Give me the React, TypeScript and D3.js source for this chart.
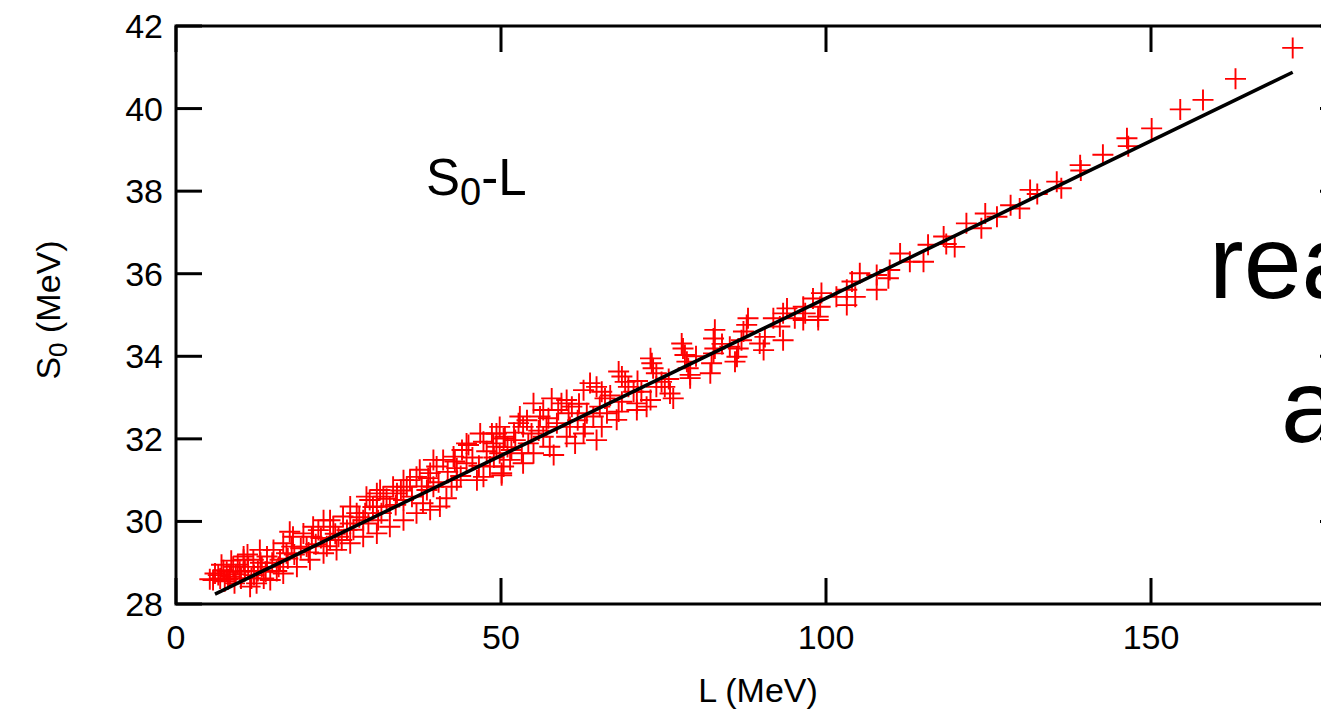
import React from "react";
import * as d3 from "d3";

// ---- data ----
const Lvals: number[] = [
  171.8, 163.0, 158.0, 154.5, 150.1, 146.3, 146.5, 142.6, 139.1, 139.2, 135.5, 136.2, 131.4, 132.5, 128.4, 129.8,
  124.5, 126.3, 123.9, 121.6, 118.1, 119.8, 118.5, 115.7, 115.0, 112.9, 111.4, 109.8, 109.6, 105.2, 107.8, 107.8,
  104.0, 103.2, 104.5, 103.2, 101.6, 99.3, 99.1, 98.0, 96.8, 98.8, 96.5,
  98.8, 96.5, 95.2, 94.0, 93.4, 92.9, 93.4, 91.9, 90.6, 89.8, 90.4, 88.0, 87.8, 87.3, 87.0, 86.5, 86.3, 86.0, 85.2,
  82.9, 82.7, 82.9, 82.7, 82.4, 82.2,
  78.0, 78.3, 78.6, 78.8, 79.1, 79.1, 77.8,
  73.0, 73.2, 73.4, 73.9, 74.7, 75.2, 76.0, 76.5, 73.9, 73.0, 72.4, 71.6,
  68.1, 68.6, 69.1, 69.6, 70.4, 70.9, 70.9, 68.6, 67.8, 68.1,
  63.7, 64.7, 65.5, 66.0, 65.2, 66.3, 65.5, 64.2, 62.7, 63.2, 62.9, 62.7, 64.7,
  60.1, 59.3, 60.9, 60.4, 60.6, 60.1, 61.4,
  57.8, 56.5, 56.0, 57.3, 58.6, 57.0, 56.5, 57.5, 58.1, 55.0,
  52.9, 52.7, 53.4, 54.7, 54.2, 55.0, 53.2, 53.4,
  49.8, 49.3, 50.6, 48.8, 49.8, 51.4, 50.4, 50.1, 51.6, 52.2,
  48.6, 50.4, 47.3, 49.3, 48.3, 50.1, 47.3, 46.3, 45.0, 44.0, 44.7, 43.2, 43.2, 42.4, 41.6, 41.1, 40.1, 39.1, 39.6,
  40.6, 38.6, 38.0, 37.0, 36.0, 35.5, 35.0, 34.0, 33.4, 32.9, 31.9, 30.9, 30.9, 29.8, 29.1, 31.1, 28.8, 27.8, 26.8,
  26.3, 24.2, 25.0, 23.7, 22.7, 21.9, 20.9, 20.1, 19.6, 18.0, 17.8, 17.0, 16.0, 16.5, 15.0, 14.0, 13.2, 12.9, 11.9,
  11.1, 10.4, 9.8, 8.8, 8.3, 7.3, 6.8, 6.0, 5.7, 5.2,
  12.4, 11.4, 14.5, 16.5, 18.6, 20.6, 22.7, 24.7, 26.8, 28.8, 30.9, 32.9, 35.0, 37.0, 39.1,
  10.4, 17.5, 21.1, 23.7, 25.7, 26.8, 29.3, 31.4, 35.0, 37.5, 39.6, 42.7, 44.7, 46.8,
  7.5, 9.0, 10.0, 7.0, 8.5, 9.5, 12.0, 13.5, 15.5, 11.0, 13.0,
  6.5, 7.8, 8.0, 9.2, 10.6, 11.6, 12.6, 13.8, 14.8, 15.8, 17.2, 18.2, 19.2, 20.4, 21.5, 22.3, 23.2, 24.5, 25.5,
  27.3, 28.2, 29.6, 30.3, 31.6, 32.4, 33.8, 34.6, 36.3, 37.8, 38.8, 40.4, 41.8, 42.9, 43.8, 45.6, 46.6, 47.8,
  48.9, 51.0, 52.0, 54.0, 55.8, 58.8, 61.8, 62.0, 66.8, 71.0, 75.8, 80.0, 84.0,
];
const S0vals: number[] = [
  41.47, 40.72, 40.21, 39.98, 39.52, 39.28, 39.09, 38.88, 38.63, 38.50, 38.23, 38.07, 38.03, 37.93, 37.66, 37.58,
  37.46, 37.38, 37.10, 37.22, 36.90, 36.65, 36.72, 36.70, 36.29, 36.29, 36.49, 36.09, 35.89, 36.01, 35.97, 35.61,
  35.81, 35.61, 35.44, 35.24, 35.44, 35.53, 35.20, 35.40, 35.04, 34.96, 34.88,
  34.88, 35.20, 34.92, 35.16, 35.04, 34.72, 34.39, 34.92, 34.47, 34.31, 34.15, 34.92, 34.76, 34.60, 34.39, 34.19, 33.99, 33.87, 34.23,
  34.64, 34.43, 34.19, 34.07, 33.83, 33.59,
  34.19, 34.03, 33.87, 33.71, 33.55, 33.47, 34.31,
  33.95, 33.83, 33.71, 33.59, 33.38, 33.26, 33.10, 32.98, 33.26, 32.94, 32.78, 33.14,
  33.63, 33.51, 33.38, 33.26, 33.14, 32.86, 32.70, 32.90, 32.46, 32.66,
  33.35, 33.26, 33.14, 32.98, 32.78, 32.62, 32.29, 32.54, 33.18, 32.62, 32.29, 32.13, 31.97,
  32.94, 32.86, 32.78, 32.62, 32.29, 32.05, 31.89,
  32.98, 32.70, 32.54, 32.50, 32.38, 32.29, 32.05, 31.81, 31.61, 32.86,
  32.54, 32.38, 32.29, 32.13, 31.89, 31.65, 31.65, 31.41,
  32.29, 32.13, 32.05, 31.89, 31.65, 31.49, 31.33, 31.17, 31.73, 31.97,
  32.13, 32.01, 31.93, 31.81, 31.33, 31.12, 31.08, 31.00, 31.85, 31.73, 31.41, 31.29, 31.00, 30.84, 30.56, 31.49, 31.33, 31.17, 30.84,
  30.36, 30.76, 30.44, 31.08, 31.00, 30.84, 30.52, 30.68, 30.84, 30.36, 30.60, 30.68, 30.36, 30.52, 30.20, 30.03, 30.03, 30.20, 29.95,
  29.79, 29.87, 29.63, 29.55, 30.03, 29.79, 29.63, 29.39, 29.71, 29.63, 29.39, 29.23, 29.07, 29.47, 29.31, 29.15, 28.90, 29.31, 29.07,
  28.90, 29.07, 28.78, 28.90, 28.66, 28.82, 28.62, 28.74, 28.58, 28.60,
  28.50, 28.42, 28.58, 28.74, 28.90, 29.07, 29.23, 29.31, 29.47, 29.63, 29.71, 29.87, 30.03, 30.20, 30.28,
  29.15, 29.75, 29.87, 30.03, 30.12, 30.36, 30.60, 30.76, 31.00, 31.25, 31.49, 31.57, 31.89, 32.13,
  28.55, 28.50, 28.62, 28.95, 29.05, 28.95, 28.70, 28.62, 28.80, 29.20, 29.00,
  28.70, 28.78, 28.60, 28.72, 28.80, 28.62, 28.80, 28.78, 29.00, 28.90, 29.10, 29.20, 29.35, 29.25, 29.45, 29.60, 29.40, 29.70, 29.55,
  29.80, 30.10, 29.95, 30.35, 30.20, 30.55, 30.40, 30.75, 30.60, 30.85, 31.05, 30.95, 31.20, 31.45, 31.10, 31.55, 31.35, 31.70,
  31.55, 31.80, 32.15, 32.45, 32.20, 32.70, 32.45, 32.85, 33.05, 33.40, 33.45, 34.00, 34.30,
];
const fitL: number[] = [6.0, 171.8];
const fitS0: number[] = [28.24, 40.88];
const xTicks: number[] = [0, 50, 100, 150];
const yTicks: number[] = [28, 30, 32, 34, 36, 38, 40, 42];

const W = 1321;
const H = 719;
const FONT = "'Liberation Sans', Arial, Helvetica, sans-serif";

export default function App() {
  const x = d3.scaleLinear().domain([0, 180]).range([176, 1346]);
  const y = d3.scaleLinear().domain([28, 42]).range([604, 26]);
  const tick = 26;
  const line = d3
    .line<number>()
    .x((d) => x(fitL[d]))
    .y((d) => y(fitS0[d]));
  const pts = Lvals.map((l, i) => [l, S0vals[i]] as [number, number]);
  const ps = 10.5;

  return (
    <svg
      width={W}
      height={H}
      style={{ position: "absolute", left: 0, top: 0, display: "block", background: "#fff" }}
    >
      <rect x={0} y={0} width={W} height={H} fill="#fff" />
      {/* points */}
      <g stroke="#ff0000" strokeWidth={1.9} fill="none">
        {pts.map(([l, s], i) => (
          <path
            key={i}
            d={`M${x(l) - ps},${y(s)}H${x(l) + ps}M${x(l)},${y(s) - ps}V${y(s) + ps}`}
          />
        ))}
      </g>
      {/* fit line */}
      <path d={line([0, 1]) || ""} stroke="#000" strokeWidth={3.5} fill="none" />
      {/* frame */}
      <rect
        x={x(0)}
        y={y(42)}
        width={x(180) - x(0)}
        height={y(28) - y(42)}
        fill="none"
        stroke="#000"
        strokeWidth={3}
      />
      {/* ticks */}
      <g stroke="#000" strokeWidth={3}>
        {xTicks.map((t) => (
          <g key={t}>
            <line x1={x(t)} x2={x(t)} y1={y(28)} y2={y(28) - tick} />
            <line x1={x(t)} x2={x(t)} y1={y(42)} y2={y(42) + tick} />
          </g>
        ))}
        {yTicks.map((t) => (
          <g key={t}>
            <line x1={x(0)} x2={x(0) + tick} y1={y(t)} y2={y(t)} />
            <line x1={x(180)} x2={x(180) - tick} y1={y(t)} y2={y(t)} />
          </g>
        ))}
      </g>
      <g fontFamily={FONT} fontSize={34} fill="#000">
        {xTicks.map((t) => (
          <text key={t} x={x(t)} y={649} textAnchor="middle">
            {t}
          </text>
        ))}
        {yTicks.map((t) => (
          <text key={t} x={163} y={y(t) + 12} textAnchor="end">
            {t}
          </text>
        ))}
        <text x={758} y={702} textAnchor="middle">
          L (MeV)
        </text>
        <text transform="translate(60,310) rotate(-90)" textAnchor="middle">
          S<tspan fontSize={26} dy={7}>0</tspan>
          <tspan dy={-7}> (MeV)</tspan>
        </text>
      </g>
      <text x={426} y={195} fontFamily={FONT} fontSize={51} fill="#000">
        S<tspan fontSize={38} dy={10}>0</tspan>
        <tspan dy={-10}>-L</tspan>
      </text>
      <text x={1209} y={298} fontFamily={FONT} fontSize={104} fill="#000">
        rea
      </text>
      <text x={1281} y={442} fontFamily={FONT} fontSize={104} fill="#000">
        a
      </text>
    </svg>
  );
}
